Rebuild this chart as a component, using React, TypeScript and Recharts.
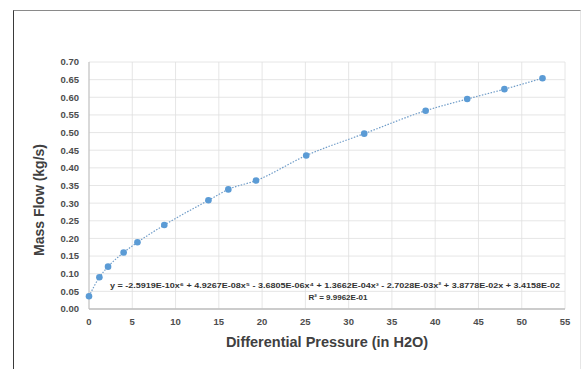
import { ComposedChart, Scatter, Line, XAxis, YAxis, CartesianGrid } from 'recharts';

// differential pressure readings (in H2O) and measured mass flow (kg/s)
const pressure = [0, 1.2, 2.2, 4.0, 5.6, 8.7, 13.8, 16.1, 19.3, 25.1, 31.8, 38.9, 43.7, 48.0, 52.4];
const massFlow = [0.036, 0.090, 0.120, 0.160, 0.189, 0.238, 0.308, 0.339, 0.364, 0.435, 0.497, 0.562, 0.595, 0.623, 0.654];

const xTicks = [0, 5, 10, 15, 20, 25, 30, 35, 40, 45, 50, 55];
const yTicks = [0, 0.05, 0.1, 0.15, 0.2, 0.25, 0.3, 0.35, 0.4, 0.45, 0.5, 0.55, 0.6, 0.65, 0.7];

const equation =
  'y = -2.5919E-10x⁶ + 4.9267E-08x⁵ - 3.6805E-06x⁴ + 1.3662E-04x³ - 2.7028E-03x² + 3.8778E-02x + 3.4158E-02';
const rSquared = 'R² = 9.9962E-01';

const data = pressure.map((x, i) => ({ x, y: massFlow[i] }));

const FONT = '"Liberation Sans", Arial, sans-serif';
const tickStyle = { fontSize: 9.5, fontWeight: 700, fill: '#4d4d4d', fontFamily: FONT };

// smaller markers than the recharts default
const Dot = (props: any) => <circle cx={props.cx} cy={props.cy} r={3.3} fill="#5b9bd5" />;

export default function App() {
  return (
    <div style={{ position: 'absolute', left: 0, top: 0, width: 584, height: 369, background: '#fff', overflow: 'hidden' }}>
      {/* frame around the chart */}
      <div
        style={{
          position: 'absolute',
          left: 13,
          top: 10,
          width: 566,
          height: 400,
          borderLeft: '1.5px solid #3a3a3a',
          borderTop: '1.5px solid #8a8a8a',
          borderRight: '1px solid #e6e6e6',
        }}
      />
      <ComposedChart
        width={584}
        height={369}
        data={data}
        margin={{ top: 62, right: 19, bottom: 20, left: 0 }}
        style={{ position: 'absolute', left: 0, top: 0 }}
      >
        <CartesianGrid stroke="#e0e0e0" strokeWidth={0.8} />
        <XAxis
          type="number"
          dataKey="x"
          domain={[0, 55]}
          ticks={xTicks}
          interval={0}
          height={40}
          tick={tickStyle}
          tickLine={false}
          tickSize={6}
          tickMargin={3}
          axisLine={{ stroke: '#bfbfbf', strokeWidth: 1.5 }}
        />
        <YAxis
          type="number"
          dataKey="y"
          domain={[0, 0.7]}
          ticks={yTicks}
          interval={0}
          width={89}
          tick={tickStyle}
          tickLine={false}
          tickSize={6}
          tickMargin={4}
          tickFormatter={(v: number) => v.toFixed(2)}
          axisLine={{ stroke: '#bfbfbf', strokeWidth: 1 }}
        />
        <Line
          type="monotone"
          dataKey="y"
          stroke="#6f9cc8"
          strokeWidth={1.2}
          strokeDasharray="1.5 1.5"
          dot={false}
          activeDot={false}
          isAnimationActive={false}
        />
        <Scatter dataKey="y" fill="#5b9bd5" shape={Dot} isAnimationActive={false} />
      </ComposedChart>
      <svg width={584} height={369} style={{ position: 'absolute', left: 0, top: 0, pointerEvents: 'none' }}>
        <text
          x={40}
          y={200}
          transform="rotate(-90 40 200)"
          textAnchor="middle"
          dominantBaseline="middle"
          fontFamily={FONT}
          fontWeight={700}
          fontSize={14}
          fill="#404040"
        >
          Mass Flow (kg/s)
        </text>
        <text
          x={327}
          y={343}
          textAnchor="middle"
          dominantBaseline="middle"
          fontFamily={FONT}
          fontWeight={700}
          fontSize={14.5}
          fill="#404040"
        >
          Differential Pressure (in H2O)
        </text>
        <text
          x={110}
          y={288}
          textLength={450}
          lengthAdjust="spacingAndGlyphs"
          fontFamily={FONT}
          fontWeight={700}
          fontSize={8}
          fill="#333"
        >
          {equation}
        </text>
        <text x={338} y={300} textAnchor="middle" fontFamily={FONT} fontWeight={700} fontSize={8} fill="#333">
          {rSquared}
        </text>
      </svg>
    </div>
  );
}
